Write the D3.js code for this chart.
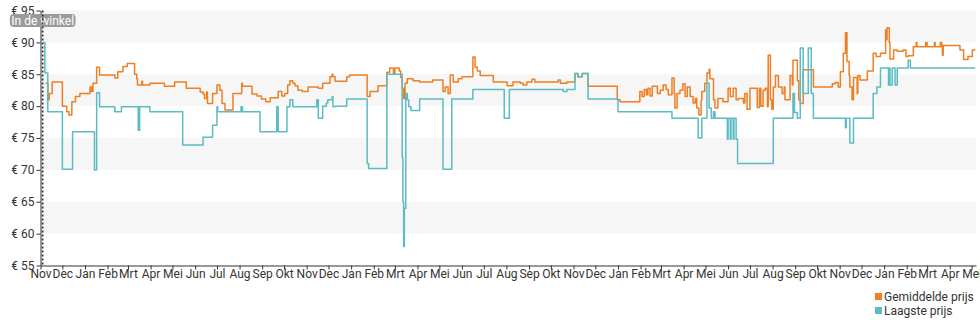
<!DOCTYPE html>
<html>
<head>
<meta charset="utf-8">
<script src="https://cdn.jsdelivr.net/npm/d3@7"></script>
<style>
  html, body { margin: 0; padding: 0; background: #fff; }
  svg { display: block; font-family: Roboto, "Noto Sans", sans-serif; }
</style>
</head>
<body>
<svg id="chart" width="980" height="325"></svg>
<script>
// Month names used for the time-axis labels
const monthLabels = ["Jan", "Feb", "Mrt", "Apr", "Mei", "Jun", "Jul", "Aug", "Sep", "Okt", "Nov", "Dec"];
// Price ticks on the value axis
const priceTicks = [55, 60, 65, 70, 75, 80, 85, 90, 95];
// Date the product became available
const storeDate = "2018-11-04";
const storeLabel = "In de winkel";
const seriesNames = ["Gemiddelde prijs", "Laagste prijs"];

// Average price (change points)
const avgPrice = [
  ["2018-11-08",83.6],["2018-11-11",81.0],["2018-11-13",82.0],["2018-11-17",83.8],["2018-12-01",80.0],
  ["2018-12-07",79.1],["2018-12-10",78.6],["2018-12-14",80.7],["2018-12-19",81.5],["2018-12-25",82.0],
  ["2019-01-08",83.0],["2019-01-10",82.3],["2019-01-12",83.6],["2019-01-17",86.1],["2019-01-21",84.9],
  ["2019-02-11",84.4],["2019-02-15",85.4],["2019-02-22",86.2],["2019-02-28",86.7],["2019-03-10",85.0],
  ["2019-03-13",84.3],["2019-03-14",83.3],["2019-03-20",83.9],["2019-03-21",83.3],["2019-03-31",83.6],
  ["2019-04-20",83.1],["2019-05-04",83.8],["2019-05-20",82.8],["2019-06-08",82.2],["2019-06-12",81.9],
  ["2019-06-14",81.2],["2019-06-17",82.2],["2019-06-18",80.4],["2019-06-25",82.0],["2019-07-01",83.3],
  ["2019-07-05",82.5],["2019-07-08",80.4],["2019-07-12",79.4],["2019-07-23",82.0],["2019-08-04",83.6],
  ["2019-08-05",83.1],["2019-08-18",81.9],["2019-08-25",81.6],["2019-08-31",81.1],["2019-09-06",80.7],
  ["2019-09-12",81.3],["2019-09-23",82.3],["2019-09-28",81.6],["2019-10-02",82.0],["2019-10-06",83.3],
  ["2019-10-09",84.0],["2019-10-13",83.6],["2019-10-16",83.2],["2019-10-20",82.5],["2019-10-26",82.3],
  ["2019-11-03",83.0],["2019-11-17",82.8],["2019-11-23",83.6],["2019-12-03",84.6],["2019-12-06",85.0],
  ["2019-12-07",84.6],["2019-12-10",83.9],["2019-12-26",84.6],["2019-12-30",84.9],["2020-01-23",81.5],
  ["2020-01-27",82.3],["2020-02-07",83.2],["2020-02-19",85.3],["2020-02-23",86.0],["2020-02-28",85.0],
  ["2020-03-01",86.0],["2020-03-07",85.5],["2020-03-09",84.5],["2020-03-11",82.8],["2020-03-13",81.2],
  ["2020-03-15",83.6],["2020-03-18",84.3],["2020-03-26",84.0],["2020-04-04",83.8],["2020-04-22",84.1],
  ["2020-05-06",82.3],["2020-05-09",83.0],["2020-05-13",82.0],["2020-05-16",84.9],["2020-05-20",83.8],
  ["2020-05-27",84.3],["2020-06-01",84.6],["2020-06-16",87.7],["2020-06-19",86.1],["2020-06-22",85.5],
  ["2020-06-26",84.8],["2020-07-14",83.8],["2020-08-02",83.2],["2020-08-10",83.8],["2020-08-20",83.6],
  ["2020-08-24",83.3],["2020-08-29",83.8],["2020-09-05",84.2],["2020-09-09",83.8],["2020-10-11",84.1],
  ["2020-10-14",83.6],["2020-10-23",83.8],["2020-11-03",85.1],["2020-11-07",84.6],["2020-11-13",85.1],
  ["2020-11-21",83.1],["2020-12-31",81.0],["2021-01-04",80.7],["2021-01-31",82.3],["2021-02-03",81.5],
  ["2021-02-06",82.6],["2021-02-09",81.8],["2021-02-11",82.8],["2021-02-14",81.6],["2021-02-17",83.1],
  ["2021-02-24",82.0],["2021-02-28",82.5],["2021-03-04",83.3],["2021-03-08",82.6],["2021-03-11",81.8],
  ["2021-03-16",84.4],["2021-03-19",82.0],["2021-03-20",79.7],["2021-03-23",82.0],["2021-03-27",82.5],
  ["2021-03-31",83.5],["2021-04-03",81.5],["2021-04-06",83.0],["2021-04-10",81.5],["2021-04-14",80.5],
  ["2021-04-17",81.2],["2021-04-19",79.7],["2021-04-22",78.6],["2021-04-25",80.9],["2021-04-26",82.3],
  ["2021-04-30",83.6],["2021-05-03",85.2],["2021-05-06",85.8],["2021-05-07",84.3],["2021-05-12",81.0],
  ["2021-05-14",79.7],["2021-05-18",81.2],["2021-05-25",80.7],["2021-06-01",82.8],["2021-06-04",81.5],
  ["2021-06-08",82.8],["2021-06-12",81.0],["2021-06-15",81.2],["2021-06-22",80.5],["2021-06-24",82.0],
  ["2021-06-27",79.5],["2021-07-01",82.8],["2021-07-11",79.8],["2021-07-14",82.8],["2021-07-16",80.0],
  ["2021-07-19",82.5],["2021-07-22",82.8],["2021-07-25",79.9],["2021-07-26",88.0],["2021-07-29",81.0],
  ["2021-07-31",79.5],["2021-08-02",83.0],["2021-08-05",84.8],["2021-08-09",83.0],["2021-08-14",82.0],
  ["2021-08-17",83.0],["2021-08-18",81.0],["2021-08-25",84.8],["2021-08-28",83.3],["2021-08-29",87.2],
  ["2021-09-04",84.0],["2021-09-06",81.0],["2021-09-08",80.4],["2021-09-12",85.7],["2021-09-26",83.0],
  ["2021-10-22",83.5],["2021-10-26",83.7],["2021-10-30",83.0],["2021-11-02",85.4],["2021-11-06",88.3],
  ["2021-11-09",91.5],["2021-11-11",87.0],["2021-11-14",84.8],["2021-11-15",83.0],["2021-11-18",81.0],
  ["2021-11-20",84.5],["2021-11-25",82.0],["2021-11-26",84.8],["2021-11-29",84.1],["2021-12-09",85.5],
  ["2021-12-17",88.3],["2021-12-21",87.8],["2021-12-27",88.3],["2022-01-03",92.0],["2022-01-04",90.4],
  ["2022-01-05",92.3],["2022-01-08",90.0],["2022-01-09",87.4],["2022-01-14",88.8],["2022-01-19",88.6],
  ["2022-01-27",88.8],["2022-01-31",87.8],["2022-02-03",87.9],["2022-02-10",89.3],["2022-02-14",90.0],
  ["2022-02-15",89.3],["2022-02-27",90.0],["2022-03-01",89.3],["2022-03-11",90.0],["2022-03-12",89.3],
  ["2022-03-19",90.0],["2022-03-21",89.3],["2022-03-22",88.0],["2022-03-23",89.5],["2022-04-15",88.8],
  ["2022-04-20",87.3],["2022-04-26",87.8],["2022-05-02",88.8],["2022-05-06",88.8]
];

// Lowest price (change points)
const lowPrice = [
  ["2018-11-05",90.0],["2018-11-07",85.2],["2018-11-11",79.1],["2018-12-01",70.1],["2018-12-15",76.0],
  ["2019-01-14",70.0],["2019-01-17",82.1],["2019-01-21",79.9],["2019-02-11",79.1],["2019-02-20",79.9],
  ["2019-03-15",76.2],["2019-03-17",79.9],["2019-03-31",79.1],["2019-05-15",73.9],["2019-06-12",75.1],
  ["2019-06-25",77.0],["2019-07-01",79.9],["2019-07-02",79.1],["2019-08-03",79.9],["2019-08-05",79.1],
  ["2019-08-29",76.0],["2019-09-21",79.9],["2019-09-23",76.0],["2019-10-05",79.9],["2019-10-09",81.0],
  ["2019-10-13",79.9],["2019-11-15",81.0],["2019-11-17",78.1],["2019-11-23",80.0],["2019-11-28",80.5],
  ["2019-11-30",81.0],["2019-12-06",81.5],["2019-12-07",79.9],["2019-12-10",80.0],["2019-12-26",81.1],
  ["2020-01-23",71.0],["2020-01-25",70.2],["2020-02-19",85.0],["2020-03-11",72.0],["2020-03-12",65.0],
  ["2020-03-13",58.0],["2020-03-14",64.0],["2020-03-16",82.0],["2020-03-18",81.0],["2020-03-20",79.9],
  ["2020-03-23",79.3],["2020-04-04",81.1],["2020-05-06",70.1],["2020-05-18",81.1],["2020-06-16",82.6],
  ["2020-07-29",78.1],["2020-08-05",82.6],["2020-10-18",82.3],["2020-10-23",82.6],["2020-11-03",85.1],
  ["2020-11-07",84.6],["2020-11-13",85.1],["2020-11-21",81.1],["2021-01-01",79.1],["2021-03-16",78.1],
  ["2021-04-21",75.0],["2021-04-26",78.1],["2021-05-03",83.6],["2021-05-06",79.7],["2021-05-09",78.1],
  ["2021-05-12",79.1],["2021-05-14",78.1],["2021-05-31",74.8],["2021-06-01",78.1],["2021-06-04",74.8],
  ["2021-06-05",78.1],["2021-06-08",74.8],["2021-06-09",78.1],["2021-06-12",74.8],["2021-06-14",71.0],
  ["2021-08-02",78.1],["2021-08-29",82.0],["2021-08-31",79.0],["2021-09-04",78.1],["2021-09-08",89.1],
  ["2021-09-12",82.0],["2021-09-19",89.1],["2021-09-23",82.0],["2021-09-26",78.1],["2021-11-09",76.6],
  ["2021-11-10",78.1],["2021-11-15",74.2],["2021-11-20",78.1],["2021-12-17",82.0],["2021-12-22",83.0],
  ["2021-12-27",86.0],["2022-01-07",83.3],["2022-01-08",86.0],["2022-01-09",83.3],["2022-01-12",86.0],
  ["2022-01-16",83.3],["2022-01-19",86.0],["2022-02-03",87.2],["2022-02-06",86.0],["2022-05-06",86.0]
];

const colors = { avg: "#ef7f22", low: "#5bbcc4", axis: "#333", text: "#333", band: "#f6f6f6", tag: "#9b9b9b" };

const parse = d3.utcParse("%Y-%m-%d");
const toPoints = arr => arr.map(([d, v]) => ({ date: parse(d), value: v }));
const avgPoints = toPoints(avgPrice);
const lowPoints = toPoints(lowPrice);

const svg = d3.select("#chart");
const plotLeft = 40.5, plotRight = 976, plotTop = 10.5, plotBottom = 265.5;

const x = d3.scaleUtc()
  .domain([parse("2018-11-01"), parse("2022-05-07")])
  .range([plotLeft, plotRight]);
const y = d3.scaleLinear()
  .domain([d3.min(priceTicks), d3.max(priceTicks)])
  .range([plotBottom, plotTop]);

// Alternating horizontal bands
const bands = d3.pairs(priceTicks).filter(([lo]) => (lo / 5) % 2 === 0);
svg.append("g").selectAll("rect").data(bands).join("rect")
  .attr("x", plotLeft)
  .attr("width", plotRight - plotLeft)
  .attr("y", d => y(d[1]))
  .attr("height", d => y(d[0]) - y(d[1]))
  .attr("fill", colors.band);

// Price lines
const line = d3.line()
  .x(d => x(d.date))
  .y(d => y(d.value))
  .curve(d3.curveStepAfter);

svg.append("path").datum(avgPoints)
  .attr("d", line).attr("fill", "none")
  .attr("stroke", colors.avg).attr("stroke-width", 1.5).attr("stroke-linejoin", "round");
svg.append("path").datum(lowPoints)
  .attr("d", line).attr("fill", "none")
  .attr("stroke", colors.low).attr("stroke-width", 1.5).attr("stroke-linejoin", "round");

// Value axis
const yAxis = svg.append("g")
  .attr("transform", `translate(${plotLeft},0)`)
  .call(d3.axisLeft(y).tickValues(priceTicks).tickFormat(d => "€ " + d).tickSize(4).tickSizeOuter(0).tickPadding(2));

// Time axis
const xAxis = svg.append("g")
  .attr("transform", `translate(0,${plotBottom})`)
  .call(d3.axisBottom(x)
    .ticks(d3.utcMonth.every(1))
    .tickFormat(d => monthLabels[d.getUTCMonth()])
    .tickSize(4).tickSizeOuter(0).tickPadding(0));

[yAxis, xAxis].forEach(g => {
  g.select(".domain").attr("stroke", colors.axis);
  g.selectAll(".tick line").attr("stroke", colors.axis);
  g.selectAll(".tick text").attr("fill", colors.text).style("font-size", "12px")
    .style("font-family", "Roboto, 'Noto Sans', sans-serif");
});

// Store-availability marker
const sx = x(parse(storeDate));
const tag = svg.append("g");
const tagText = tag.append("text")
  .attr("x", sx).attr("y", 24.5)
  .attr("text-anchor", "middle")
  .attr("fill", "#fff").style("font-size", "12px")
  .text(storeLabel);
const bb = tagText.node().getBBox();
tag.insert("rect", "text")
  .attr("x", bb.x - 1.5).attr("y", 14).attr("width", bb.width + 3).attr("height", 13)
  .attr("rx", 4).attr("fill", colors.tag);
svg.append("line")
  .attr("x1", sx).attr("x2", sx).attr("y1", plotTop).attr("y2", plotBottom)
  .attr("stroke", colors.axis).attr("stroke-width", 1.6).attr("stroke-dasharray", "2,2");

// Legend
const legend = svg.append("g").attr("transform", "translate(875,293)");
const legendItems = legend.selectAll("g").data(seriesNames).join("g")
  .attr("transform", (d, i) => `translate(0,${i * 14})`);
legendItems.append("rect")
  .attr("width", 7).attr("height", 7)
  .attr("fill", (d, i) => i === 0 ? colors.avg : colors.low);
legendItems.append("text")
  .attr("x", 9).attr("y", 7.5)
  .attr("fill", colors.text).style("font-size", "12px")
  .text(d => d);
</script>
</body>
</html>
